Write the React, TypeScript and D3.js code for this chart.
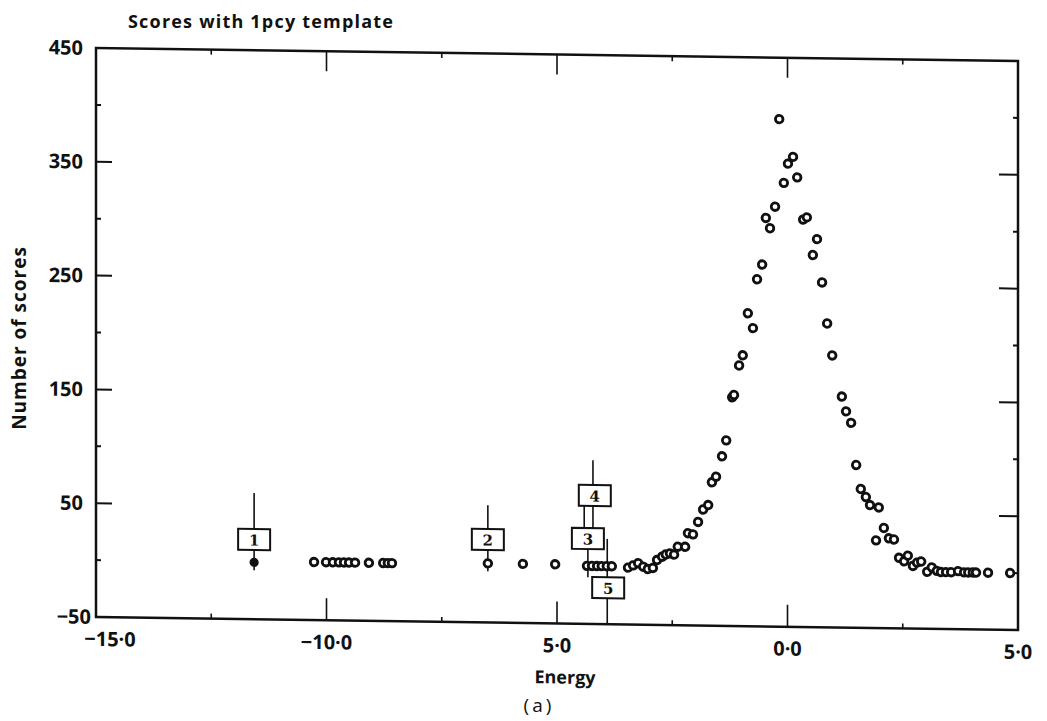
import { useEffect, useRef } from "react";
import * as d3 from "d3";

// scores (energy, number of scores)
const energies = [
  -10.27, -10.01, -9.86, -9.73, -9.62, -9.51, -9.38, -9.08, -8.77, -8.67, -8.58,
  -6.5, -5.74, -5.04,
  -4.35, -4.24, -4.13, -4.03, -3.92, -3.81,
  -3.46, -3.35, -3.24, -3.13, -3.03, -2.92,
  -2.83, -2.72, -2.64, -2.55, -2.46, -2.38, -2.22,
  -2.16, -2.05, -1.94, -1.83, -1.72,
  -1.64, -1.55, -1.42, -1.33, -1.2, -1.16,
  -1.05, -0.97, -0.86, -0.75, -0.66, -0.55,
  -0.47, -0.38, -0.27, -0.18, -0.08, 0.01, 0.12, 0.21,
  0.34, 0.42, 0.55, 0.64, 0.75, 0.86, 0.97,
  1.18, 1.27, 1.38, 1.49, 1.59, 1.7, 1.79, 1.98,
  2.09, 1.92, 2.2, 2.31,
  2.42, 2.53, 2.61, 2.72, 2.81, 2.9,
  3.03, 3.13, 3.24, 3.33, 3.44, 3.55, 3.7, 3.83, 3.92, 4.02, 4.09, 4.35, 4.83,
];
const scores = [
  1, 1, 1, 1, 1, 1, 1, 1, 1, 1, 1,
  2, 2, 2,
  1, 1, 1, 1, 1, 1,
  0, 2, 4, 1, -1, 0,
  7, 10, 12, 13, 12, 19, 19,
  31, 30, 41, 52, 56,
  76, 81, 99, 113, 151, 153,
  179, 188, 225, 212, 255, 268,
  309, 300, 319, 396, 340, 357, 363, 345,
  308, 310, 277, 291, 253, 217, 189,
  153, 140, 130, 93, 72, 65, 58, 56,
  38, 27, 29, 28,
  12, 9, 14, 5, 8, 9,
  0, 4, 1, 0, 0, 0, 1, 0, 0, 0, 0, 0, 0,
];

// the solid point under box 1
const solidEnergy = -11.57;
const solidScore = 0;

// numbered boxes and their stems
const boxLabels = ["1", "2", "4", "3", "5"];
const boxEnergies = [-11.57, -6.5, -4.18, -4.33, -3.89];
const boxScores = [20, 23, 63, 25, -18];

const stemEnergies = [-11.57, -6.5, -4.22, -4.41, -4.22, -4.33, -3.91];
const stemFrom = [-7, -5, 63, 25, 25, -9, -50];
const stemTo = [61, 53, 94, 63, 63, 25, 25];

const xMajor = [-15, -10, -5, 0, 5];
const xLabels = ["−15·0", "−10·0", "5·0", "0·0", "5·0"];
const xMinor = [-12.5, -7.5, -2.5, 2.5];
const yMajor = [450, 350, 250, 150, 50, -50];
const yLabels = ["450", "350", "250", "150", "50", "−50"];
const yMinor = [400, 300, 200, 100, 0];

const W = 1047;
const H = 721;
const font = "'Open Sans', 'DejaVu Sans', sans-serif";

export default function App() {
  const svgRef = useRef<SVGSVGElement>(null);

  useEffect(() => {
    if (!svgRef.current) return;
    const svg = d3.select(svgRef.current);
    svg.selectAll("*").remove();

    const left = 96, right = 1018, top = 48, bottom = 617;
    const x = d3.scaleLinear().domain([-15, 5]).range([left, right]);
    const y = d3.scaleLinear().domain([-50, 450]).range([bottom, top]);

    svg.append("rect").attr("width", W).attr("height", H).attr("fill", "#fff");

    // title
    svg.append("text")
      .attr("x", 128)
      .attr("y", 28)
      .attr("font-family", font)
      .attr("font-weight", 700)
      .attr("font-size", "18px")
      .attr("letter-spacing", "1.2px")
      .attr("fill", "#111")
      .text("Scores with 1pcy template");

    // y label
    svg.append("text")
      .attr("transform", "translate(26,338) rotate(-90)")
      .attr("text-anchor", "middle")
      .attr("font-family", font)
      .attr("font-weight", 700)
      .attr("font-size", "19px")
      .attr("letter-spacing", "1px")
      .attr("fill", "#111")
      .text("Number of scores");

    // the scan is slightly sheared: right side sits lower
    const g = svg.append("g")
      .attr("transform", `translate(${left},0) skewY(0.81) translate(${-left},0)`);

    const ink = "#111";

    // frame
    g.append("rect")
      .attr("x", left).attr("y", top)
      .attr("width", right - left).attr("height", bottom - top)
      .attr("fill", "none").attr("stroke", ink).attr("stroke-width", 2.5);

    const major = 16, minor = 5;
    xMajor.slice(1, -1).forEach(v => {
      g.append("line").attr("x1", x(v)).attr("x2", x(v)).attr("y1", bottom).attr("y2", bottom - major - 6)
        .attr("stroke", ink).attr("stroke-width", 1.6);
      g.append("line").attr("x1", x(v)).attr("x2", x(v)).attr("y1", top).attr("y2", top + major + 4)
        .attr("stroke", ink).attr("stroke-width", 1.6);
    });
    xMinor.forEach(v => {
      g.append("line").attr("x1", x(v)).attr("x2", x(v)).attr("y1", bottom).attr("y2", bottom - minor)
        .attr("stroke", ink).attr("stroke-width", 1.6);
      g.append("line").attr("x1", x(v)).attr("x2", x(v)).attr("y1", top).attr("y2", top + minor)
        .attr("stroke", ink).attr("stroke-width", 1.6);
    });
    yMajor.slice(1, -1).forEach(v => {
      g.append("line").attr("x1", left).attr("x2", left + major).attr("y1", y(v)).attr("y2", y(v))
        .attr("stroke", ink).attr("stroke-width", 2);
      g.append("line").attr("x1", right).attr("x2", right - major - 3).attr("y1", y(v)).attr("y2", y(v))
        .attr("stroke", ink).attr("stroke-width", 2);
    });
    yMinor.forEach(v => {
      g.append("line").attr("x1", left).attr("x2", left + minor).attr("y1", y(v)).attr("y2", y(v))
        .attr("stroke", ink).attr("stroke-width", 2);
      g.append("line").attr("x1", right).attr("x2", right - minor).attr("y1", y(v)).attr("y2", y(v))
        .attr("stroke", ink).attr("stroke-width", 2);
    });

    // tick labels
    xMajor.forEach((v, i) => {
      g.append("text")
        .attr("x", x(v) + (i === 0 ? 14 : 0))
        .attr("y", bottom + 29)
        .attr("text-anchor", "middle")
        .attr("font-family", font)
        .attr("font-weight", 700)
        .attr("font-size", "20px")
        .attr("fill", ink)
        .text(xLabels[i]);
    });
    yMajor.forEach((v, i) => {
      g.append("text")
        .attr("x", i === yMajor.length - 1 ? left - 5 : left - 13)
        .attr("y", y(v) + 7)
        .attr("text-anchor", "end")
        .attr("font-family", font)
        .attr("font-weight", 700)
        .attr("font-size", "20px")
        .attr("fill", ink)
        .text(yLabels[i]);
    });

    // stems behind boxes
    stemEnergies.forEach((e, i) => {
      g.append("line")
        .attr("x1", x(e)).attr("x2", x(e))
        .attr("y1", y(stemFrom[i])).attr("y2", y(stemTo[i]))
        .attr("stroke", ink).attr("stroke-width", 1.6);
    });

    // open circles
    g.append("g")
      .selectAll("circle")
      .data(energies)
      .join("circle")
      .attr("cx", d => x(d))
      .attr("cy", (_, i) => y(scores[i]))
      .attr("r", 3.8)
      .attr("fill", "#fff")
      .attr("stroke", ink)
      .attr("stroke-width", 2.8);

    g.append("circle")
      .attr("cx", x(solidEnergy))
      .attr("cy", y(solidScore))
      .attr("r", 4.6)
      .attr("fill", ink);

    // numbered boxes
    const bw = 32, bh = 21;
    boxLabels.forEach((lab, i) => {
      const cx = x(boxEnergies[i]);
      const cy = y(boxScores[i]);
      g.append("rect")
        .attr("x", cx - bw / 2).attr("y", cy - bh / 2)
        .attr("width", bw).attr("height", bh)
        .attr("fill", "#fff").attr("stroke", ink).attr("stroke-width", 2);
      g.append("text")
        .attr("x", cx).attr("y", cy + 6)
        .attr("text-anchor", "middle")
        .attr("font-family", "'DejaVu Serif', serif")
        .attr("font-weight", 700)
        .attr("font-size", "15px")
        .attr("fill", ink)
        .text(lab);
    });

    // axis title and caption
    g.append("text")
      .attr("x", 565).attr("y", 677)
      .attr("text-anchor", "middle")
      .attr("font-family", font)
      .attr("font-weight", 700)
      .attr("font-size", "18px")
      .attr("fill", ink)
      .text("Energy");

    svg.append("text")
      .attr("x", 539).attr("y", 712)
      .attr("text-anchor", "middle")
      .attr("font-family", font)
      .attr("font-size", "19px")
      .attr("letter-spacing", "3px")
      .attr("fill", ink)
      .text("(a)");
  }, []);

  return (
    <svg
      ref={svgRef}
      width={W}
      height={H}
      viewBox={`0 0 ${W} ${H}`}
      style={{ position: "absolute", left: 0, top: 0, display: "block" }}
    />
  );
}
